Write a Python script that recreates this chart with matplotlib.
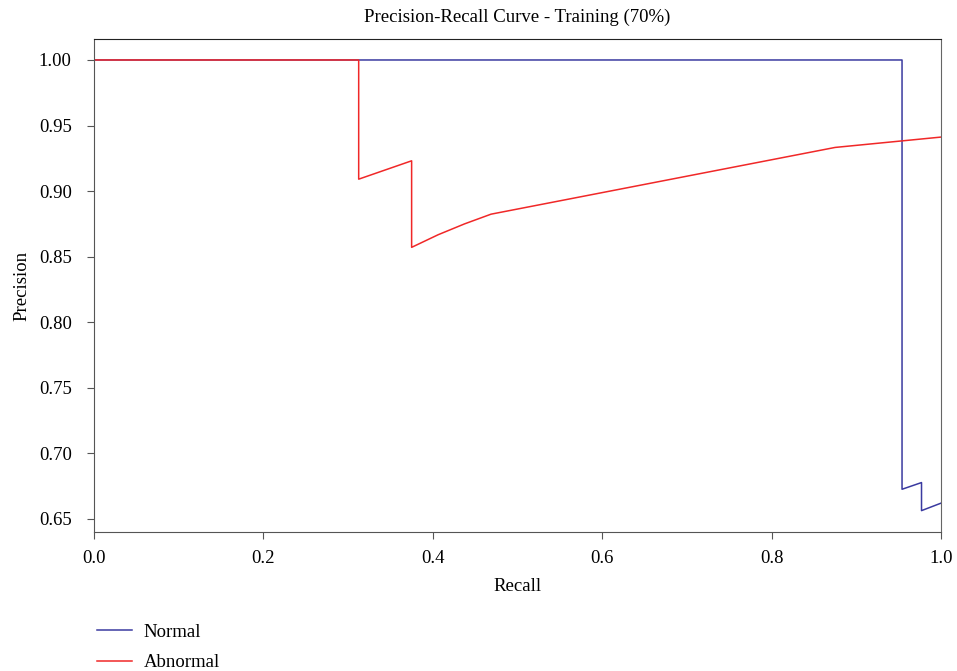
import matplotlib
matplotlib.use("Agg")
import matplotlib.pyplot as plt

plt.rcParams['font.family'] = ['Liberation Serif', 'DejaVu Serif']

normal_recall = [0.0, 0.954, 0.954, 0.977, 0.977, 1.0]
normal_precision = [1.0, 1.0, 0.6726, 0.6777, 0.6563, 0.662]

abn_recall = [0.0, 0.3125, 0.3125, 0.375, 0.375, 0.40625, 0.4375, 0.46875, 0.875, 1.0]
abn_precision = [1.0, 1.0, 0.9091, 0.9231, 0.8571, 0.8667, 0.875, 0.8824, 0.9333, 0.9412]

x_ticks = [0.0, 0.2, 0.4, 0.6, 0.8, 1.0]
y_ticks = [0.65, 0.70, 0.75, 0.80, 0.85, 0.90, 0.95, 1.00]

fig = plt.figure(figsize=(9.57, 6.71), dpi=100)
ax = fig.add_axes([94/957, 1-532/671, (941-94)/957, (532-39)/671])

l1, = ax.plot(normal_recall, normal_precision, color='#3a3aa0', lw=1.1, label='Normal')
l2, = ax.plot(abn_recall, abn_precision, color='#f02828', lw=1.1, label='Abnormal')

ax.set_xlim(0, 1.0)
ax.set_ylim(0.640, 1.016)
ax.set_xticks(x_ticks)
ax.set_xticklabels([f"{v:.1f}" for v in x_ticks])
ax.set_yticks(y_ticks)
ax.set_yticklabels([f"{v:.2f}" for v in y_ticks])
ax.tick_params(labelsize=13.5, length=5, color='#555555')
ax.tick_params(axis='x', pad=8)
ax.tick_params(axis='y', pad=11)
for s in ['left', 'bottom']:
    ax.spines[s].set_color('#555555')
ax.spines['top'].set_color('#222222')
ax.spines['right'].set_color('#666666')

ax.set_xlabel('Recall', fontsize=13.5, labelpad=8)
ax.set_ylabel('Precision', fontsize=13.5, labelpad=6)
ax.set_title('Precision-Recall Curve - Training (70%)', fontsize=13.5, pad=12)

fig.legend(handles=[l1, l2], loc='upper left', bbox_to_anchor=(80/957, 1-607/671),
           frameon=False, fontsize=13.5, handlelength=1.85, labelspacing=0.7,
           handletextpad=0.65)

fig.savefig('out.png', dpi=100)
